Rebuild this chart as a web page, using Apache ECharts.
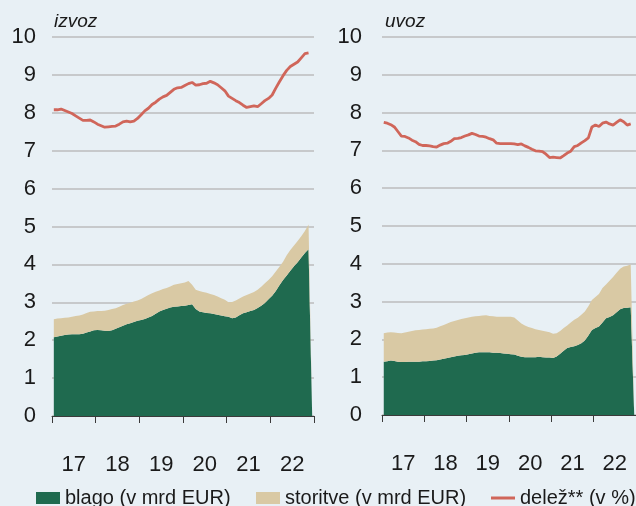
<!DOCTYPE html>
<html>
<head>
<meta charset="utf-8">
<script src="https://cdn.jsdelivr.net/npm/echarts@6/dist/echarts.min.js"></script>
<style>
html, body { margin: 0; padding: 0; background: #e8f0f5; }
#main { width: 636px; height: 506px; }
</style>
</head>
<body>
<div id="main"></div>
<script>
// mesečni podatki jan 2017 - dec 2022 (zadnji mesec prazen)
var yearLabels = ['17', '18', '19', '20', '21', '22'];

var izvozBlago = [2.08, 2.10, 2.12, 2.14, 2.15, 2.16, 2.16, 2.16, 2.17, 2.20, 2.23, 2.26,
    2.27, 2.26, 2.25, 2.24, 2.26, 2.30, 2.34, 2.38, 2.42, 2.45, 2.48, 2.51,
    2.53, 2.56, 2.60, 2.64, 2.70, 2.76, 2.80, 2.83, 2.86, 2.88, 2.89, 2.90,
    2.91, 2.93, 2.95, 2.82, 2.76, 2.74, 2.72, 2.71, 2.69, 2.67, 2.65, 2.63,
    2.62, 2.58, 2.60, 2.66, 2.71, 2.74, 2.77, 2.80, 2.85, 2.91, 2.98, 3.08,
    3.17, 3.30, 3.45, 3.59, 3.71, 3.83, 3.95, 4.06, 4.18, 4.30, 4.40, 0];
var izvozStoritve = [0.47, 0.47, 0.46, 0.45, 0.45, 0.46, 0.48, 0.49, 0.51, 0.52, 0.52, 0.50,
    0.50, 0.51, 0.53, 0.56, 0.56, 0.54, 0.54, 0.55, 0.54, 0.54, 0.54, 0.54,
    0.56, 0.58, 0.59, 0.60, 0.58, 0.55, 0.55, 0.55, 0.56, 0.58, 0.59, 0.60,
    0.61, 0.63, 0.51, 0.51, 0.54, 0.53, 0.53, 0.51, 0.50, 0.48, 0.46, 0.44,
    0.38, 0.43, 0.45, 0.44, 0.44, 0.45, 0.46, 0.47, 0.48, 0.50, 0.52, 0.51,
    0.52, 0.51, 0.49, 0.48, 0.53, 0.55, 0.55, 0.56, 0.56, 0.58, 0.65, 0];
var izvozDelez = [8.08, 8.08, 8.10, 8.06, 8.02, 7.98, 7.92, 7.86, 7.80, 7.80, 7.81, 7.76,
    7.70, 7.66, 7.62, 7.63, 7.64, 7.65, 7.70, 7.76, 7.78, 7.76, 7.78, 7.85,
    7.95, 8.05, 8.12, 8.22, 8.28, 8.36, 8.42, 8.46, 8.54, 8.62, 8.66, 8.67,
    8.72, 8.77, 8.80, 8.73, 8.74, 8.77, 8.78, 8.83, 8.79, 8.74, 8.66, 8.58,
    8.44, 8.38, 8.32, 8.27, 8.20, 8.14, 8.16, 8.18, 8.16, 8.24, 8.32, 8.38,
    8.47, 8.65, 8.82, 8.98, 9.12, 9.22, 9.28, 9.34, 9.45, 9.56, 9.58, null];

var uvozBlago = [1.41, 1.42, 1.44, 1.43, 1.41, 1.40, 1.40, 1.41, 1.41, 1.41, 1.41, 1.42,
    1.42, 1.43, 1.44, 1.45, 1.47, 1.49, 1.51, 1.53, 1.55, 1.57, 1.58, 1.59,
    1.61, 1.63, 1.65, 1.66, 1.66, 1.66, 1.66, 1.65, 1.65, 1.64, 1.63, 1.62,
    1.61, 1.60, 1.57, 1.54, 1.53, 1.53, 1.53, 1.53, 1.54, 1.53, 1.52, 1.52,
    1.51, 1.55, 1.62, 1.70, 1.77, 1.80, 1.82, 1.85, 1.90, 1.97, 2.10, 2.25,
    2.30, 2.34, 2.45, 2.56, 2.59, 2.64, 2.72, 2.80, 2.83, 2.84, 2.85, 0];
var uvozStoritve = [0.75, 0.76, 0.75, 0.75, 0.76, 0.76, 0.78, 0.79, 0.81, 0.83, 0.84, 0.84,
    0.85, 0.85, 0.85, 0.86, 0.88, 0.89, 0.91, 0.93, 0.94, 0.94, 0.96, 0.97,
    0.97, 0.97, 0.96, 0.96, 0.97, 0.98, 0.96, 0.96, 0.95, 0.96, 0.97, 0.98,
    0.99, 0.98, 0.93, 0.88, 0.84, 0.80, 0.77, 0.74, 0.71, 0.70, 0.69, 0.67,
    0.64, 0.61, 0.60, 0.60, 0.60, 0.65, 0.70, 0.72, 0.75, 0.77, 0.78, 0.79,
    0.82, 0.86, 0.91, 0.89, 0.96, 1.01, 1.04, 1.07, 1.10, 1.11, 1.13, 0];
var uvozDelez = [7.74, 7.72, 7.68, 7.62, 7.50, 7.38, 7.37, 7.33, 7.27, 7.23, 7.16, 7.13,
    7.13, 7.12, 7.10, 7.09, 7.14, 7.18, 7.19, 7.24, 7.31, 7.32, 7.34, 7.38,
    7.41, 7.45, 7.42, 7.38, 7.37, 7.35, 7.31, 7.28, 7.19, 7.18, 7.18, 7.18,
    7.18, 7.17, 7.15, 7.17, 7.12, 7.08, 7.03, 6.99, 6.98, 6.97, 6.90, 6.81,
    6.82, 6.81, 6.80, 6.86, 6.93, 6.98, 7.10, 7.13, 7.20, 7.26, 7.33, 7.62,
    7.67, 7.63, 7.72, 7.75, 7.70, 7.67, 7.74, 7.81, 7.76, 7.67, 7.70, null];

// kategorije mesecev (17-01 ... 22-12)
var months = [];
yearLabels.forEach(function (y) {
    for (var m = 1; m <= 12; m++) months.push(y + '-' + (m < 10 ? '0' + m : m));
});

var GREEN = '#1f6a4f';
var BEIGE = '#d9c9a4';
var RED = '#d0665a';
var TXT = '#1a1a1a';
var FONT = 'Liberation Sans, Arial, sans-serif';

function tickAxis(g) {
    return {
        gridIndex: g, type: 'value', position: 'bottom', min: 0, max: 72, interval: 12,
        axisLine: { show: true, lineStyle: { color: '#3a3a3a', width: 1 } },
        axisTick: { show: true, length: 7, lineStyle: { color: '#3a3a3a' } },
        axisLabel: { show: false },
        splitLine: { show: false }
    };
}
function monthAxis(g) {
    return {
        gridIndex: g, type: 'category', position: 'bottom', data: months, boundaryGap: true,
        axisLine: { show: false }, axisTick: { show: false }, axisLabel: { show: false }
    };
}
function yearAxis(g) {
    return {
        gridIndex: g, type: 'category', position: 'bottom', data: yearLabels, boundaryGap: true,
        axisLine: { show: false }, axisTick: { show: false },
        axisLabel: { margin: 38, fontSize: 22, color: TXT, fontFamily: FONT }
    };
}
function valAxis(g, margin) {
    return {
        gridIndex: g, type: 'value', min: 0, max: 10, interval: 1,
        axisLine: { show: false }, axisTick: { show: false },
        axisLabel: { margin: margin, fontSize: 22, color: TXT, fontFamily: FONT },
        splitLine: { lineStyle: { color: '#bdbdbd', width: 1.5 } }
    };
}
function area(name, data, xi, yi, stack, color) {
    return {
        name: name, type: 'line', xAxisIndex: xi, yAxisIndex: yi, stack: stack,
        data: data, symbol: 'none',
        lineStyle: { width: 0 }, itemStyle: { color: color },
        areaStyle: { color: color, opacity: 1 }
    };
}
function line(name, data, xi, yi) {
    return {
        name: name, type: 'line', xAxisIndex: xi, yAxisIndex: yi,
        data: data, symbol: 'none', z: 5,
        lineStyle: { width: 2.8, color: RED }, itemStyle: { color: RED }
    };
}
function legendAt(left, name, h) {
    return {
        left: left, top: 483, itemWidth: 24, itemHeight: h, icon: 'rect',
        textStyle: { fontSize: 20, color: TXT, fontFamily: FONT },
        data: [{ name: name, icon: 'rect' }]
    };
}

var myChart = echarts.init(document.getElementById('main'));
myChart.setOption({
    backgroundColor: '#e8f0f5',
    animation: false,
    textStyle: { fontFamily: FONT },
    graphic: [
        { type: 'text', left: 54, top: 12, style: { text: 'izvoz', font: 'italic 19px Liberation Sans', fill: TXT } },
        { type: 'text', left: 385, top: 12, style: { text: 'uvoz', font: 'italic 19px Liberation Sans', fill: TXT } }
    ],
    legend: [
        legendAt(31, 'blago (v mrd EUR)', 12),
        legendAt(251, 'storitve (v mrd EUR)', 12),
        legendAt(486, 'delež** (v %)', 3)
    ],
    grid: [
        { left: 52, top: 37, width: 262, height: 379 },
        { left: 382, top: 37, width: 256, height: 378 }
    ],
    xAxis: [tickAxis(0), monthAxis(0), yearAxis(0), tickAxis(1), monthAxis(1), yearAxis(1)],
    yAxis: [valAxis(0, 16), valAxis(1, 20)],
    series: [
        area('blago (v mrd EUR)', izvozBlago, 1, 0, 'izvoz', GREEN),
        area('storitve (v mrd EUR)', izvozStoritve, 1, 0, 'izvoz', BEIGE),
        line('delež** (v %)', izvozDelez, 1, 0),
        area('blago (v mrd EUR)', uvozBlago, 4, 1, 'uvoz', GREEN),
        area('storitve (v mrd EUR)', uvozStoritve, 4, 1, 'uvoz', BEIGE),
        line('delež** (v %)', uvozDelez, 4, 1)
    ]
});
</script>
</body>
</html>
